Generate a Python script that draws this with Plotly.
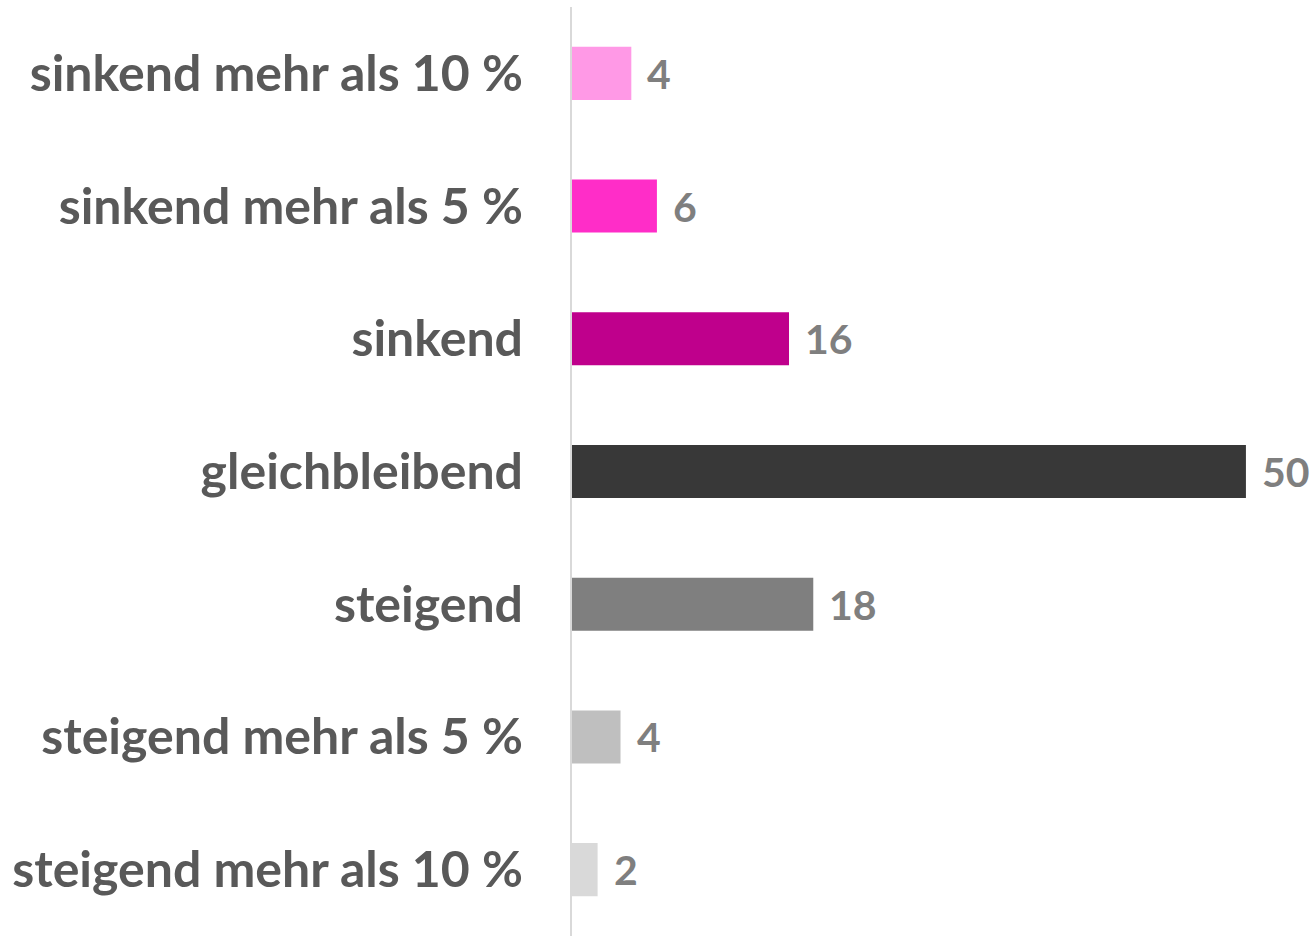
import plotly.graph_objects as go

categories = [
    "sinkend mehr als 10 %",
    "sinkend mehr als 5 %",
    "sinkend",
    "gleichbleibend",
    "steigend",
    "steigend mehr als 5 %",
    "steigend mehr als 10 %",
]
values = [4.4, 6.3, 16.1, 50.0, 17.9, 3.6, 1.9]
bar_colors = ["#FF99E6", "#FF2DC8", "#BF008C", "#383838", "#7F7F7F", "#BFBFBF", "#D9D9D9"]

font_family = "Lato, 'Open Sans', sans-serif"

fig = go.Figure()
fig.add_trace(go.Bar(
    x=values,
    y=categories,
    orientation="h",
    marker_color=bar_colors,
    marker_line_width=0,
    hoverinfo="x+y",
))

# value labels to the right of each bar
for cat, val in zip(categories, values):
    fig.add_annotation(
        x=val, y=cat,
        text=f"<b>{round(val)}</b>",
        xanchor="left", yanchor="middle",
        xshift=14, showarrow=False,
        font=dict(family=font_family, size=41, color="#7F7F7F"),
    )

fig.update_layout(
    width=1314,
    height=936,
    margin=dict(l=572, r=0, t=7, b=0),
    paper_bgcolor="white",
    plot_bgcolor="white",
    showlegend=False,
    bargap=0.6,
    xaxis=dict(
        range=[0, 55.05],
        showgrid=False,
        zeroline=False,
        showticklabels=False,
        showline=False,
    ),
    yaxis=dict(
        autorange="reversed",
        showgrid=False,
        zeroline=False,
        showline=True,
        linecolor="#D9D9D9",
        linewidth=2,
        ticks="",
        ticklabelstandoff=37,
        tickfont=dict(family=font_family, size=50, color="#595959", weight="bold"),
    ),
)

# drop the default page margin so the figure fills the window exactly
fig.write_html(
    "out.html",
    config={"displayModeBar": False},
    post_script="document.body.style.margin = '0';",
)
